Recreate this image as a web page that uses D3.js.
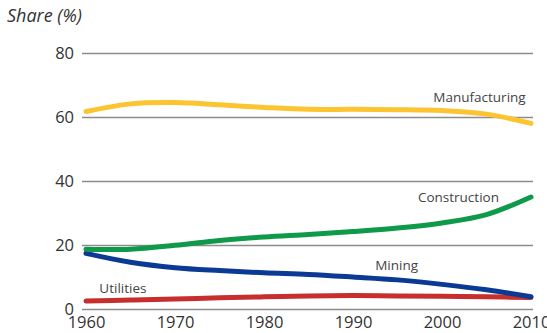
<!DOCTYPE html>
<html>
<head>
<meta charset="utf-8">
<script src="https://cdn.jsdelivr.net/npm/d3@7"></script>
<style>
  html, body { margin: 0; padding: 0; background: #fff; }
  svg { display: block; }
  text { font-family: "Open Sans", "Liberation Sans", sans-serif; }
</style>
</head>
<body>
<svg id="chart" width="547" height="333"></svg>
<script>
const years = [1960, 1965, 1970, 1975, 1980, 1985, 1990, 1995, 2000, 2005, 2010];
const manufacturing = [61.7, 64.1, 64.5, 63.8, 63.0, 62.4, 62.4, 62.3, 62.0, 60.9, 58.0];
const construction  = [18.7, 18.7, 19.9, 21.4, 22.5, 23.3, 24.2, 25.3, 26.9, 29.5, 35.0];
const mining        = [17.4, 14.6, 12.9, 12.0, 11.3, 10.8, 10.0, 9.1, 7.7, 6.0, 3.8];
const utilities     = [2.5, 2.8, 3.1, 3.5, 3.8, 4.1, 4.2, 4.1, 4.0, 3.8, 3.6];
const seriesNames   = ["Manufacturing", "Construction", "Mining", "Utilities"];
const yTicks = [0, 20, 40, 60, 80];
const xTicks = [1960, 1970, 1980, 1990, 2000, 2010];
const yTitle = "Share (%)";

const seriesValues = [manufacturing, construction, mining, utilities];
const colors = ["#FDC431", "#0E9A4A", "#0B3A94", "#C62F2E"];
const labelPos = [
  {year: 2009.4, value: 64.7, anchor: "end"},
  {year: 2006.4, value: 33.4, anchor: "end"},
  {year: 1994.9, value: 12.2, anchor: "middle"},
  {year: 1961.5, value: 5.0, anchor: "start"}
];

const svg = d3.select("#chart");
const x = d3.scaleLinear().domain([1960, 2010]).range([86, 531]);
const y = d3.scaleLinear().domain([0, 80]).range([309, 53]);

// gridlines + y labels
const yAxis = d3.axisLeft(y).tickValues(yTicks).tickSize(-(533 - 82)).tickPadding(8);
const gy = svg.append("g").attr("transform", "translate(82,0)").call(yAxis);
gy.select(".domain").remove();
gy.selectAll(".tick line").attr("stroke", "#8c8c8c").attr("stroke-width", 1.5);
gy.selectAll(".tick text").attr("fill", "#333").style("font-size", "16.5px").attr("x", -8);

// x labels
const xAxis = d3.axisBottom(x).tickValues(xTicks).tickFormat(d3.format("d")).tickSize(0).tickPadding(0);
const gx = svg.append("g").attr("transform", "translate(0,316)").call(xAxis);
gx.select(".domain").remove();
gx.selectAll(".tick text").attr("fill", "#333").style("font-size", "16.5px").attr("dy", "0.71em");

// title
svg.append("text").attr("x", 7).attr("y", 22).attr("fill", "#333")
  .style("font-size", "18px").style("font-style", "italic").text(yTitle);

const line = d3.line().x((d, i) => x(years[i])).y(d => y(d)).curve(d3.curveCatmullRom.alpha(0.5));

// draw order: utilities, mining, construction, manufacturing
[3, 2, 1, 0].forEach(k => {
  svg.append("path").datum(seriesValues[k])
    .attr("d", line)
    .attr("fill", "none")
    .attr("stroke", colors[k])
    .attr("stroke-width", 5)
    .attr("stroke-linecap", "round");
});

seriesNames.forEach((name, k) => {
  svg.append("text")
    .attr("x", x(labelPos[k].year)).attr("y", y(labelPos[k].value))
    .attr("text-anchor", labelPos[k].anchor)
    .attr("fill", "#444").style("font-size", "13.5px")
    .text(name);
});
</script>
</body>
</html>
